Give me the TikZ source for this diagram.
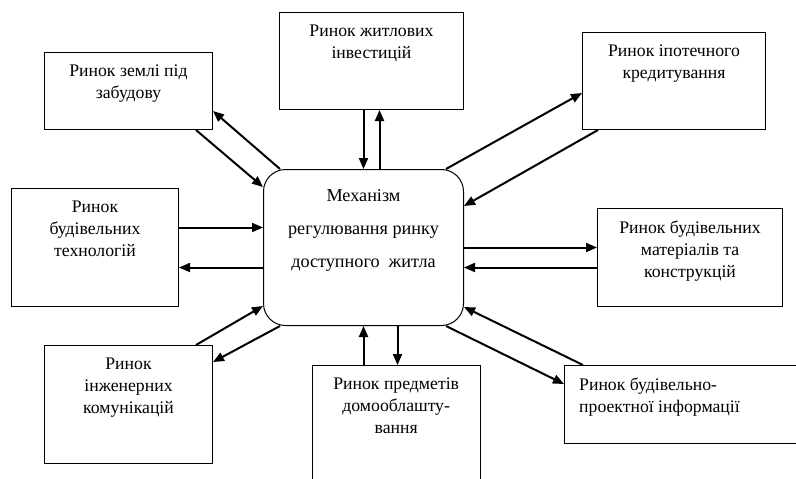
\documentclass[tikz,border=0pt]{standalone}
\usepackage{fontspec}
\setmainfont{Liberation Serif}
\usetikzlibrary{arrows.meta}
\begin{document}
\begin{tikzpicture}[x=1pt,y=-1pt,
  box/.style={draw, line width=1pt, rectangle, inner sep=0pt, anchor=north west},
  openbox/.style={inner sep=0pt, anchor=north west},
  edge/.style={line width=1pt},
  txt/.style={font=\fontsize{17.7}{22}\selectfont, align=center, inner sep=0pt, anchor=north},
  arr/.style={line width=2pt, -{Triangle[length=11pt,width=9pt]}}
]
\useasboundingbox (0,0) rectangle (796,479);

% boxes
\node[box, minimum width=168pt, minimum height=77pt] (land) at (44,52) {};
\node[box, minimum width=184pt, minimum height=97pt] (inv) at (279,12) {};
\node[box, minimum width=183pt, minimum height=97pt] (ipo) at (582,32) {};
\node[box, minimum width=167pt, minimum height=118pt] (tech) at (11,188) {};
\node[draw, line width=1pt, rounded corners=22pt, minimum width=200pt, minimum height=156pt, inner sep=0pt, anchor=north west] (mech) at (263,169) {};
\node[box, minimum width=185pt, minimum height=98pt] (mat) at (597,208) {};
\node[box, minimum width=168pt, minimum height=118pt] (eng) at (44,345) {};
\node[openbox, minimum width=168pt, minimum height=118pt] (dom) at (312,365) {};
\draw[edge] (dom.south west) -- (dom.north west) -- (dom.north east) -- (dom.south east);
\node[openbox, minimum width=236pt, minimum height=78pt] (info) at (564,365) {};
\draw[edge] (info.north east) -- (info.north west) -- (info.south west) -- (info.south east);

% texts
\node[txt] (landT) at ([yshift=-13pt]land.north) {Ринок землі під\\забудову};
\node[txt] (invT) at ([yshift=-13pt]inv.north) {Ринок житлових\\інвестицій};
\node[txt] (ipoT) at ([yshift=-13pt]ipo.north) {Ринок іпотечного\\кредитування};
\node[txt] (techT) at ([yshift=-13pt]tech.north) {Ринок\\будівельних\\технологій};
\node[txt] (matT) at ([yshift=-13pt]mat.north) {Ринок будівельних\\матеріалів та\\конструкцій};
\node[txt] (engT) at ([yshift=-13pt]eng.north) {Ринок\\інженерних\\комунікацій};
\node[txt] (domT) at ([yshift=-13pt]dom.north) {Ринок предметів\\домооблашту-\\вання};
\node[txt, anchor=north west, align=left] (infoT) at ([xshift=15pt,yshift=-13pt]info.north west) {Ринок будівельно-\\проектної інформації};
\node[font=\fontsize{18.2}{33}\selectfont, align=center, inner sep=0pt] (mechT) at ([yshift=17pt]mech.center) {Механізм\\регулювання ринку\\доступного\ \ житла};

% top
\draw[arr] (inv.south -| mech.north) -- (mech.north);
\draw[arr] ([xshift=16pt]mech.north) -- ([xshift=16pt]mech.north |- inv.south);
% top-left
\draw[arr] ([xshift=17pt]mech.north west) -- ([yshift=19pt]land.south east);
\draw[arr] ([xshift=-17pt]land.south east) -- ([yshift=-18pt]mech.north west);
% top-right
\draw[arr] ([xshift=-18pt]mech.north east) -- ([yshift=37pt]ipo.south west);
\draw[arr] ([xshift=16pt]ipo.south west) -- ([yshift=-37pt]mech.north east);
% left
\draw[arr] ([yshift=20pt]tech.east) -- ([yshift=20pt]tech.east -| mech.west);
\draw[arr] ([yshift=-20pt]tech.east -| mech.west) -- ([yshift=-20pt]tech.east);
% right
\draw[arr] (mech.east) -- (mech.east -| mat.west);
\draw[arr] ([yshift=-20pt]mech.east -| mat.west) -- ([yshift=-20pt]mech.east);
% bottom
\draw[arr] (mech.south |- dom.north) -- (mech.south);
\draw[arr] ([xshift=34pt]mech.south) -- ([xshift=34pt]mech.south |- dom.north);
% bottom-left
\draw[arr] ([xshift=-17pt]eng.north east) -- ([yshift=20pt]mech.south west);
\draw[arr] ([xshift=17pt]mech.south west) -- ([yshift=-17pt]eng.north east);
% bottom-right
\draw[arr] ([xshift=19pt]info.north west) -- ([yshift=19pt]mech.south east);
\draw[arr] ([xshift=-18pt]mech.south east) -- ([yshift=-19pt]info.north west);
\end{tikzpicture}
\end{document}
